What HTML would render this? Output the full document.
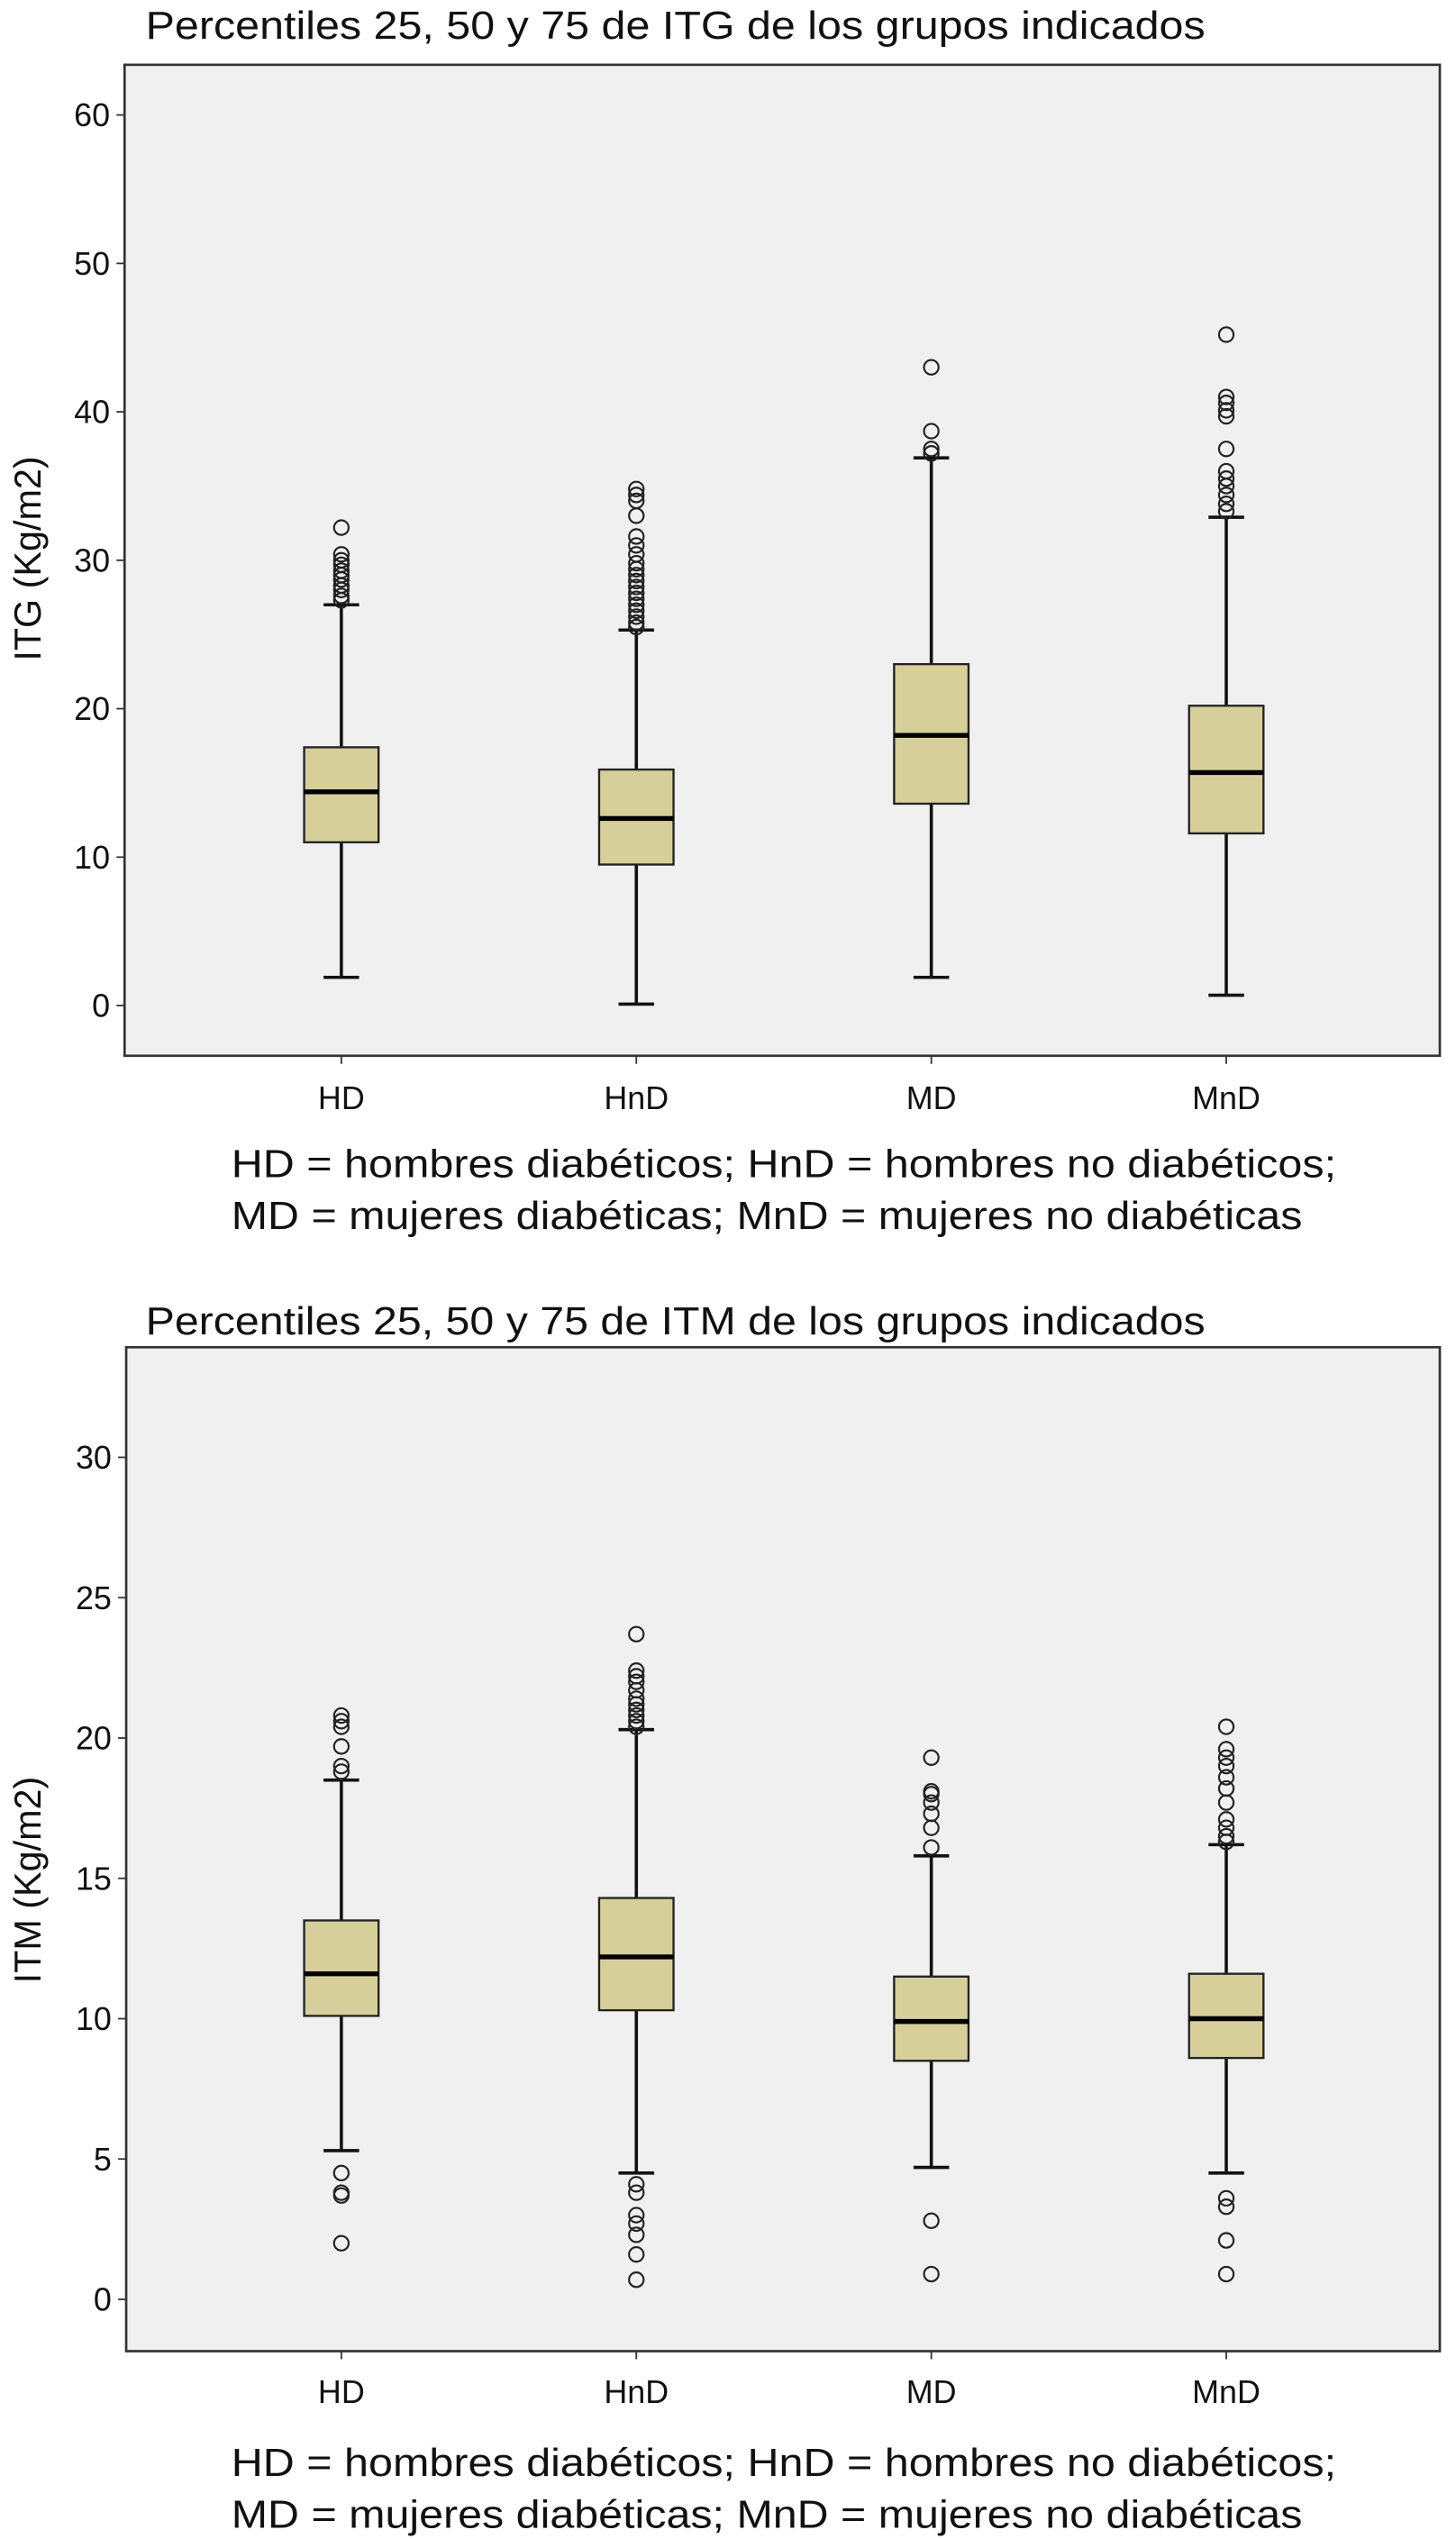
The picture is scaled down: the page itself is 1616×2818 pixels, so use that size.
<!DOCTYPE html>
<html><head><meta charset="utf-8"><style>
html,body{margin:0;padding:0;background:#fff}
svg{display:block}
text{font-family:"Liberation Sans",Arial,sans-serif;fill:#111}
</style></head><body>
<svg id="svg" width="1616" height="2818" viewBox="0 0 900 1568" preserveAspectRatio="none" xmlns="http://www.w3.org/2000/svg"></svg>
<script>
const categories = ["HD","HnD","MD","MnD"];
// Chart 1 (ITG)
const itgQ1 = [11, 9.5, 13.6, 11.6];
const itgMed = [14.4, 12.6, 18.2, 15.7];
const itgQ3 = [17.4, 15.9, 23, 20.2];
const itgLo = [1.9, 0.1, 1.9, 0.7];
const itgHi = [27, 25.3, 36.9, 32.9];
const itgOut = [
  [27.3,27.6,28,28.3,28.7,29,29.3,29.7,30,30.4,32.2],
  [25.5,25.8,26.2,26.6,27,27.4,27.8,28.2,28.6,29,29.4,29.8,30.4,31,31.6,33,34,34.4,34.8],
  [37.2,37.5,38.7,43],
  [33.3,33.8,34.4,35,35.5,36,37.5,39.7,40.1,40.6,41,45.2]
];
const itgTicks = [0,10,20,30,40,50,60];
// Chart 2 (ITM)
const itmQ1 = [10.1, 10.3, 8.5, 8.6];
const itmMed = [11.6, 12.2, 9.9, 10];
const itmQ3 = [13.5, 14.3, 11.5, 11.6];
const itmLo = [5.3, 4.5, 4.7, 4.5];
const itmHi = [18.5, 20.3, 15.8, 16.2];
const itmOut = [
  [18.8,19,19.7,20.4,20.6,20.8,4.5,3.8,3.7,2.0],
  [20.4,20.6,20.8,21,21.2,21.4,21.7,22,22.2,22.4,23.7,4.1,3.8,3.0,2.7,2.3,1.6,0.7],
  [16.1,16.8,17.3,17.7,18,18.1,19.3,2.8,0.9],
  [16.3,16.5,16.8,17.1,17.7,18.2,18.6,19,19.3,19.6,20.4,3.6,3.3,2.1,0.9]
];
const itmTicks = [0,5,10,15,20,25,30];

const NS="http://www.w3.org/2000/svg";
const svg=document.getElementById('svg');
function mk(tag,attrs,parent){const e=document.createElementNS(NS,tag);for(const k in attrs)e.setAttribute(k,attrs[k]);(parent||svg).appendChild(e);return e;}

function chart(cfg){
  const g=mk('g',{});
  
  
  const y=v=>cfg.y0+(cfg.yTop-cfg.y0)*(v/cfg.vTop);
  const xs=[211,393,576,758];
  const x=i=>xs[0]+(xs[3]-xs[0])*i/(categories.length-1);
  const t=mk('text',{x:90,y:cfg.titleY,'font-size':24,textLength:655,lengthAdjust:'spacingAndGlyphs'},g);
  t.textContent=cfg.title;
  
  
  const fr=mk('rect',{x:cfg.fx1,y:cfg.fy1,width:890-cfg.fx1,height:cfg.fy2-cfg.fy1,fill:'#f0f0f0',stroke:'#333','stroke-width':1.5},g);
  
  
  cfg.ticks.forEach(v=>{
    mk('line',{x1:cfg.fx1-5,x2:cfg.fx1,y1:y(v),y2:y(v),stroke:'#333','stroke-width':1},g);
    const tl=mk('text',{x:cfg.fx1-9,y:y(v)+7,'font-size':20,'text-anchor':'end'},g);
    tl.textContent=v;
    
    
  });
  const yt=mk('text',{x:0,y:0,'font-size':23,'text-anchor':'middle',transform:`translate(25,${cfg.ytY}) rotate(-90)`},g);
  yt.textContent=cfg.ytitle;
  
  
  categories.forEach((c,i)=>{
    const cx=x(i);
    mk('line',{x1:cx,x2:cx,y1:cfg.fy2,y2:cfg.fy2+5,stroke:'#333'},g);
    const xl=mk('text',{x:cx,y:cfg.labY+8,'font-size':20,'text-anchor':'middle'},g);
    xl.textContent=c;
    
    
    const bg=mk('g',{},g);
    
    
    mk('line',{x1:cx,x2:cx,y1:y(cfg.lo[i]),y2:y(cfg.q1[i]),stroke:'#111','stroke-width':2},bg);
    mk('line',{x1:cx,x2:cx,y1:y(cfg.q3[i]),y2:y(cfg.hi[i]),stroke:'#111','stroke-width':2},bg);
    mk('line',{x1:cx-11,x2:cx+11,y1:y(cfg.lo[i]),y2:y(cfg.lo[i]),stroke:'#111','stroke-width':2},bg);
    mk('line',{x1:cx-11,x2:cx+11,y1:y(cfg.hi[i]),y2:y(cfg.hi[i]),stroke:'#111','stroke-width':2},bg);
    mk('rect',{x:cx-23,y:y(cfg.q3[i]),width:46,height:y(cfg.q1[i])-y(cfg.q3[i]),fill:'#d6cf9a',stroke:'#222','stroke-width':1.3},bg);
    mk('line',{x1:cx-23,x2:cx+23,y1:y(cfg.med[i]),y2:y(cfg.med[i]),stroke:'#000','stroke-width':3},bg);
    cfg.out[i].forEach(v=>{
      const o=mk('circle',{cx:cx,cy:y(v),r:4.5,fill:'none',stroke:'#222','stroke-width':1.2},bg);
      
      
    });
  });
  const l1=mk('text',{x:143,y:cfg.legY,'font-size':24,textLength:683,lengthAdjust:'spacingAndGlyphs'},g);
  l1.textContent='HD = hombres diabéticos; HnD = hombres no diabéticos;';
  
  
  const l2=mk('text',{x:143,y:cfg.legY+32,'font-size':24,textLength:662,lengthAdjust:'spacingAndGlyphs'},g);
  l2.textContent='MD = mujeres diabéticas; MnD = mujeres no diabéticas';
  
  
}
chart({name:'itg-chart',title:'Percentiles 25, 50 y 75 de ITG de los grupos indicados',titleY:24,
  fx1:77,fy1:40,fy2:652,y0:621,yTop:71,vTop:60,ticks:itgTicks,ytitle:'ITG (Kg/m2)',ytY:345,labY:677,legY:727,
  q1:itgQ1,med:itgMed,q3:itgQ3,lo:itgLo,hi:itgHi,out:itgOut});
chart({name:'itm-chart',title:'Percentiles 25, 50 y 75 de ITM de los grupos indicados',titleY:824,
  fx1:78,fy1:832,fy2:1452,y0:1420,yTop:900,vTop:30,ticks:itmTicks,ytitle:'ITM (Kg/m2)',ytY:1161,labY:1476,legY:1529,
  q1:itmQ1,med:itmMed,q3:itmQ3,lo:itmLo,hi:itmHi,out:itmOut});
</script>
</body></html>
